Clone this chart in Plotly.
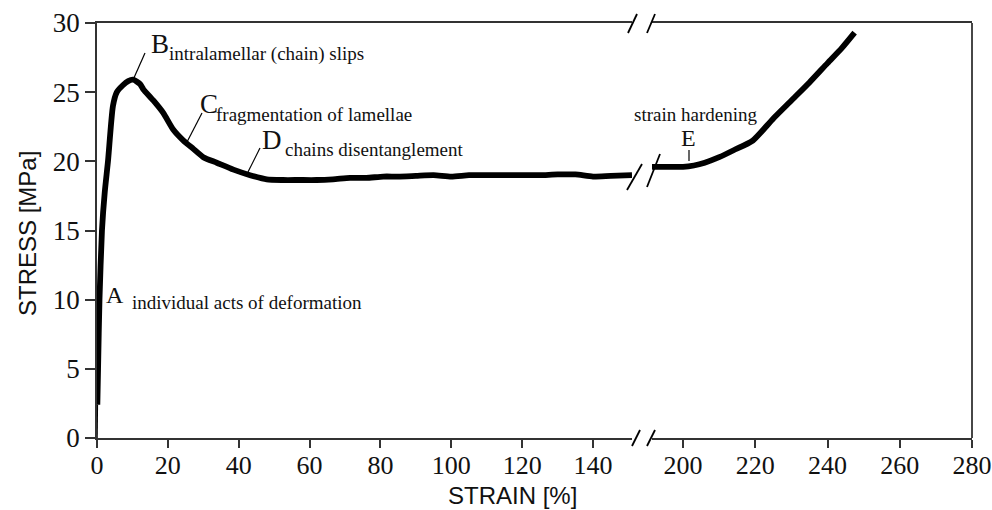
import plotly.graph_objects as go

# ---- data: tensile stress-strain curve (strain in %, stress in MPa) ----
# elastic foot of the curve (drawn thin)
strain_foot = [0.0, 0.1]
stress_foot = [0.0, 2.4]

# segment before the axis break
strain_low = [0.1, 0.3, 0.7, 1.4, 2.2, 3.1, 4.5, 5.6, 7.3, 8.8,
              10.2, 12.1, 13.1, 15.9, 18.7, 21.5, 24.4, 27.2, 30.0, 33.8,
              38.5, 43.2, 47.9, 52.5, 57.0, 62.0, 66.6, 71.4, 76.0, 80.8,
              85, 90, 95, 100, 105, 110, 115, 120, 125, 130,
              135, 140, 145, 151]
stress_low = [2.4, 5.0, 10.0, 15.0, 17.8, 20.0, 24.0, 25.0, 25.5, 25.8,
              25.9, 25.6, 25.2, 24.4, 23.5, 22.3, 21.5, 20.9, 20.3, 19.9,
              19.4, 19.0, 18.7, 18.65, 18.65, 18.65, 18.7, 18.8, 18.8, 18.9,
              18.9, 18.95, 19.0, 18.9, 19.0, 19.0, 19.0, 19.0, 19.0, 19.05,
              19.05, 18.9, 18.95, 19.0]

# segment after the axis break (strain hardening)
strain_high = [191.4, 195, 200, 203, 206, 210, 214, 219.3, 225, 230, 235, 240, 244, 247.5]
stress_high = [19.6, 19.6, 19.6, 19.7, 19.9, 20.3, 20.8, 21.5, 23.1, 24.4, 25.7, 27.1, 28.2, 29.3]

x_ticks_low = [0, 20, 40, 60, 80, 100, 120, 140]
x_ticks_high = [200, 220, 240, 260, 280]
y_ticks = [0, 5, 10, 15, 20, 25, 30]

# ---- layout geometry ----
W, H = 992, 510
ML, MR, MT, MB = 97, 20, 23, 72
PW, PH = W - ML - MR, H - MT - MB
BOTTOM = H - MB


def px(x):
    return (x - ML) / PW


def py(y):
    return (BOTTOM - y) / PH


AX = "#333333"
SERIF = "Liberation Serif"
SANS = "Liberation Sans"

fig = go.Figure()
fig.add_trace(go.Scatter(x=strain_foot, y=stress_foot, mode="lines",
                         line=dict(color="black", width=1.5), xaxis="x", yaxis="y",
                         showlegend=False, hoverinfo="skip"))
fig.add_trace(go.Scatter(x=strain_low, y=stress_low, mode="lines",
                         line=dict(color="black", width=5.8, shape="spline", smoothing=0.6),
                         xaxis="x", yaxis="y", showlegend=False))
fig.add_trace(go.Scatter(x=strain_high, y=stress_high, mode="lines",
                         line=dict(color="black", width=5.8, shape="spline", smoothing=0.6),
                         xaxis="x2", yaxis="y", showlegend=False))

d1, d2 = px(632), px(652)


def xaxis_style(domain, rng, ticks):
    return dict(domain=domain, range=rng, tickvals=ticks, automargin=False,
                ticks="outside", ticklen=8, tickwidth=1.5, tickcolor=AX,
                ticklabelstandoff=-5,
                showline=True, linecolor=AX, linewidth=1.8, mirror=True,
                showgrid=False, zeroline=False, anchor="y",
                tickfont=dict(family=SERIF, size=26, color="#111111"))


fig.update_layout(
    width=W, height=H,
    margin=dict(l=ML, r=MR, t=MT, b=MB, pad=0, autoexpand=False),
    paper_bgcolor="white", plot_bgcolor="white",
    font=dict(family=SERIF, size=26, color="#111111"),
    showlegend=False,
    xaxis=xaxis_style([0, d1], [0, 151], x_ticks_low),
    xaxis2=xaxis_style([d2, 1], [191.4, 280], x_ticks_high),
    yaxis=dict(range=[0, 30], tickvals=y_ticks, automargin=False,
               ticks="outside", ticklen=10, tickwidth=1.5, tickcolor=AX,
               showline=True, linecolor=AX, linewidth=1.8,
               showgrid=False, zeroline=False,
               tickfont=dict(family=SERIF, size=27, color="#111111"), anchor="x"),
)

shapes = []
# right border of the frame
shapes.append(dict(type="line", xref="paper", yref="paper", x0=1, x1=1, y0=0, y1=1,
                   line=dict(color=AX, width=1.8)))

# break marks (pixel endpoints)
breaks = [
    ((628, 33), (637, 14)), ((647, 33), (655, 14)),        # top edge
    ((632, 446), (640, 430)), ((647, 446), (655, 430)),    # bottom edge
    ((627, 190), (642, 164)), ((647, 187), (660, 154)),    # curve
]
for (xa, ya), (xb, yb) in breaks:
    shapes.append(dict(type="line", xref="paper", yref="paper",
                       x0=px(xa), y0=py(ya), x1=px(xb), y1=py(yb),
                       line=dict(color="black", width=1.8)))

# leader lines for the labelled stages
leaders = [
    ((133, 80), (145, 53)),    # B
    ((187, 142), (202, 113)),  # C
    ((248, 172), (260, 148)),  # D
    ((689, 150), (689, 161)),  # E
]
for (xa, ya), (xb, yb) in leaders:
    shapes.append(dict(type="line", xref="paper", yref="paper",
                       x0=px(xa), y0=py(ya), x1=px(xb), y1=py(yb),
                       line=dict(color="black", width=1.2)))

fig.update_layout(shapes=shapes)

# text labels: (text, x px, y px center, size, anchor)
labels = [
    ("B", 150, 44, 27, "left"),
    ("intralamellar (chain) slips", 168, 54, 19, "left"),
    ("C", 199, 104, 27, "left"),
    ("fragmentation of lamellae", 215, 114, 19, "left"),
    ("D", 261, 140, 27, "left"),
    ("chains disentanglement", 284, 149, 19, "left"),
    ("A", 105, 295, 24, "left"),
    ("individual acts of deformation", 131, 302, 19, "left"),
    ("strain hardening", 695, 114, 19, "center"),
    ("E", 688, 138, 24, "center"),
]
for text, x, y, size, anchor in labels:
    fig.add_annotation(text=text, xref="paper", yref="paper", x=px(x), y=py(y),
                       xanchor=anchor, yanchor="middle", showarrow=False, borderpad=0,
                       font=dict(family=SERIF, size=size, color="#111111"))

# axis titles
fig.add_annotation(text="STRESS [MPa]", xref="paper", yref="paper", x=px(28), y=py(234),
                   xanchor="center", yanchor="middle", textangle=-90, showarrow=False,
                   font=dict(family=SANS, size=24, color="#111111"))
fig.add_annotation(text="STRAIN [%]", xref="paper", yref="paper", x=px(512), y=py(495),
                   xanchor="center", yanchor="middle", showarrow=False, borderpad=0,
                   font=dict(family=SANS, size=24, color="#111111"))

fig.write_html("out.html")
